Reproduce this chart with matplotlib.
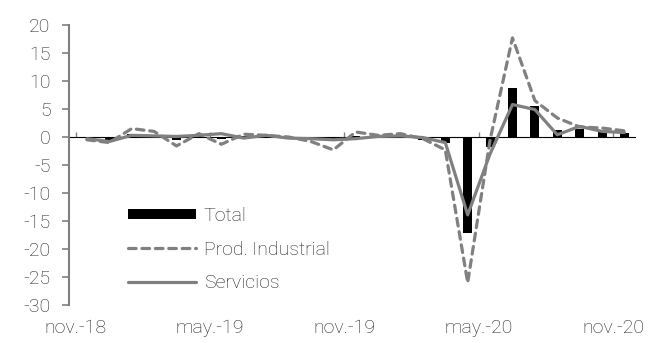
import matplotlib
matplotlib.use("Agg")
import matplotlib.pyplot as plt
import numpy as np

months = ["nov.-18", "dic.-18", "ene.-19", "feb.-19", "mar.-19", "abr.-19", "may.-19",
          "jun.-19", "jul.-19", "ago.-19", "sep.-19", "oct.-19", "nov.-19", "dic.-19",
          "ene.-20", "feb.-20", "mar.-20", "abr.-20", "may.-20", "jun.-20", "jul.-20",
          "ago.-20", "sep.-20", "oct.-20", "nov.-20"]

total = [-0.2, -0.5, 0.5, 0.2, -0.5, 0.1, -0.3, 0.2, 0.1, -0.1, -0.2, -0.4, 0.2,
         0.1, 0.2, -0.6, -1.1, -17.2, -1.8, 8.8, 5.6, 1.3, 1.4, 1.0, 0.7]

prod_industrial = [-0.5, -1.0, 1.5, 1.0, -1.6, 0.6, -1.3, 0.5, 0.3, 0.0, -0.8, -2.3, 0.9,
                   0.3, 0.6, -0.3, -2.3, -26.0, -0.5, 17.7, 6.5, 3.4, 1.8, 1.6, 1.1]

servicios = [-0.3, -0.8, 0.3, 0.2, 0.1, 0.3, 0.6, -0.2, 0.3, -0.2, -0.3, -0.5, -0.3,
             0.1, 0.2, -0.1, -1.0, -13.9, -3.0, 5.8, 4.9, 0.4, 1.9, 1.0, 0.8]

label_every = 6
yticks = list(range(-30, 25, 5))

TXT = "#222222"
GRAY = "#808080"
FS = 14
plt.rcParams['font.family'] = ['Roboto', 'DejaVu Sans']

fig = plt.figure(figsize=(6.58, 3.43), dpi=100)
ax = fig.add_axes([69/658, 1-305/343, (635-69)/658, (305-25)/343])

x = np.arange(len(months))
b = ax.bar(x, total, width=0.4, color="black", label="Total", zorder=2)
l1, = ax.plot(x, prod_industrial, color=GRAY, lw=2.3, label="Prod. Industrial",
              dash_capstyle="round", zorder=3)
l1.set_dashes([2.4, 1.8])
l2, = ax.plot(x, servicios, color=GRAY, lw=2.3, label="Servicios", zorder=3,
              solid_capstyle="round")

ax.set_xlim(-0.8, 24.47)
ax.set_ylim(-30, 20)
ax.set_yticks(yticks)
ax.set_yticklabels([str(v) for v in yticks], fontsize=FS, color=TXT, fontweight="light")
ax.tick_params(axis="y", direction="out", length=5.3, width=1.2, color=GRAY, pad=8)

tick_pos = [i - 0.5 for i in range(0, len(months), label_every)]
ax.set_xticks(tick_pos)
ax.set_xticklabels([months[i] for i in range(0, len(months), label_every)],
                   fontsize=FS, color=TXT, fontweight="light")
ax.tick_params(axis="x", length=0, pad=10)

for s in ["top", "right", "bottom"]:
    ax.spines[s].set_visible(False)
ax.spines["left"].set_color(GRAY)
ax.spines["left"].set_linewidth(1.5)

zero_loc = (0 - (-30)) / 50
sec = ax.secondary_xaxis(zero_loc)
sec.set_xticks(tick_pos)
sec.set_xticklabels([])
sec.tick_params(axis="x", direction="out", length=3.5, width=1.0, color=GRAY)
sec.spines["bottom"].set_color(GRAY)
sec.spines["bottom"].set_linewidth(1.6)

leg = ax.legend(handles=[b, l1, l2], loc="upper left",
                bbox_to_anchor=(128/658, 1-207/343),
                bbox_transform=fig.transFigure, frameon=False, fontsize=FS,
                handlelength=3.5, handleheight=0.45, handletextpad=0.4,
                labelspacing=0.8, borderpad=0, borderaxespad=0)
for t in leg.get_texts():
    t.set_color(TXT)
    t.set_fontweight("light")

fig.savefig("out.png", dpi=100)
